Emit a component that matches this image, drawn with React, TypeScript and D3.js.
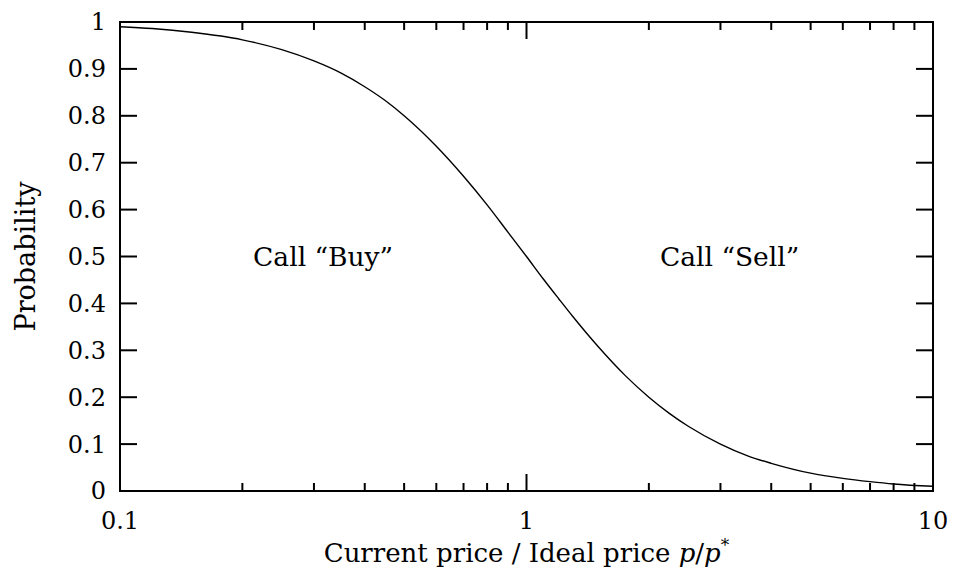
import React from "react";
import * as d3 from "d3";

const priceRatio = [0.1, 0.12, 0.15, 0.2, 0.25, 0.3, 0.35, 0.4, 0.45, 0.5, 0.6, 0.7, 0.8, 0.9, 1, 1.1, 1.2, 1.3, 1.5, 1.75, 2, 2.25, 2.5, 3, 3.5, 4, 5, 6, 7, 8, 10];
const probability = [0.99, 0.986, 0.978, 0.962, 0.941, 0.917, 0.891, 0.862, 0.832, 0.8, 0.735, 0.671, 0.61, 0.552, 0.5, 0.452, 0.41, 0.372, 0.308, 0.246, 0.2, 0.165, 0.138, 0.1, 0.075, 0.059, 0.038, 0.027, 0.02, 0.015, 0.01];
const xMajorTicks = [0.1, 1, 10];
const xMajorLabels = ["0.1", "1", "10"];
const yTicks = [0, 0.1, 0.2, 0.3, 0.4, 0.5, 0.6, 0.7, 0.8, 0.9, 1];
const yTickLabels = ["0", "0.1", "0.2", "0.3", "0.4", "0.5", "0.6", "0.7", "0.8", "0.9", "1"];
const annotations = [
  { text: "Call \u201CBuy\u201D", x: 0.316, y: 0.5 },
  { text: "Call \u201CSell\u201D", x: 3.16, y: 0.5 },
];

const W = 953, H = 576;
const L = 120, R = 933, T = 22, B = 491;
const FONT = "DejaVu Serif";

export default function App() {
  const x = d3.scaleLog().domain([0.1, 10]).range([L, R]);
  const y = d3.scaleLinear().domain([0, 1]).range([B, T]);
  const minor: number[] = [];
  [0.1, 1].forEach((d) => { for (let k = 2; k <= 9; k++) minor.push(d * k); });
  const line = d3.line<number>()
    .x((_, i) => x(priceRatio[i]))
    .y((d) => y(d))
    .curve(d3.curveMonotoneX);
  const major = 17, minorLen = 8;
  return (
    <svg width={W} height={H} style={{ position: "absolute", left: 0, top: 0 }} fontFamily={FONT}>
      <rect width={W} height={H} fill="white" />
      <path d={line(probability) || ""} fill="none" stroke="black" strokeWidth={1.4} />
      {xMajorTicks.map((t, i) => (
        <g key={"xm" + i}>
          <line x1={x(t)} x2={x(t)} y1={B} y2={B - major} stroke="black" strokeWidth={2} />
          <line x1={x(t)} x2={x(t)} y1={T} y2={T + major} stroke="black" strokeWidth={2} />
          <text x={x(t)} y={529} textAnchor="middle" fontSize={24}>{xMajorLabels[i]}</text>
        </g>
      ))}
      {minor.map((t, i) => (
        <g key={"xn" + i}>
          <line x1={x(t)} x2={x(t)} y1={B} y2={B - minorLen} stroke="black" strokeWidth={2} />
          <line x1={x(t)} x2={x(t)} y1={T} y2={T + minorLen} stroke="black" strokeWidth={2} />
        </g>
      ))}
      {yTicks.map((t, i) => (
        <g key={"y" + i}>
          <line x1={L} x2={L + major} y1={y(t)} y2={y(t)} stroke="black" strokeWidth={2} />
          <line x1={R} x2={R - major} y1={y(t)} y2={y(t)} stroke="black" strokeWidth={2} />
          <text x={106} y={y(t)} dy="0.35em" textAnchor="end" fontSize={24}>{yTickLabels[i]}</text>
        </g>
      ))}
      <rect x={L} y={T} width={R - L} height={B - T} fill="none" stroke="black" strokeWidth={2} />
      {annotations.map((a, i) => (
        <text key={"a" + i} x={x(a.x)} y={y(a.y)} dy="0.35em" textAnchor="middle" fontSize={26.5}>{a.text}</text>
      ))}
      <text x={(L + R) / 2} y={562} textAnchor="middle" fontSize={26}>
        Current price / Ideal price <tspan fontStyle="italic">p</tspan>/<tspan fontStyle="italic">p</tspan>
        <tspan fontSize={17} dy={-11}>*</tspan>
      </text>
      <text transform={`translate(35,${(T + B) / 2}) rotate(-90)`} textAnchor="middle" fontSize={27}>Probability</text>
    </svg>
  );
}
